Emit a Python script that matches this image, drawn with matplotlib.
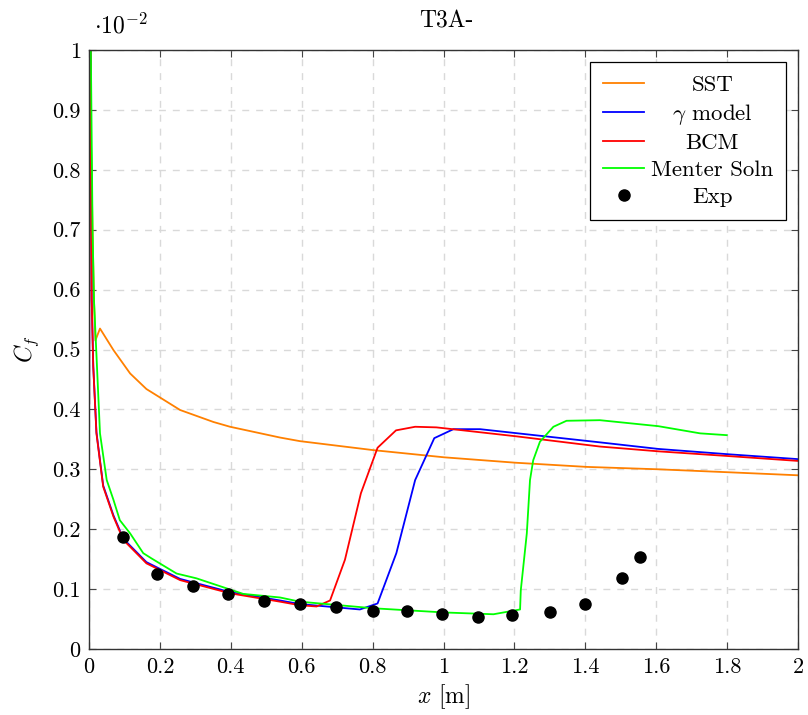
import numpy as np
import matplotlib.pyplot as plt

plt.rcParams['font.family'] = 'serif'
plt.rcParams['font.serif'] = ['cmr10', 'DejaVu Serif']
plt.rcParams['mathtext.fontset'] = 'cm'
plt.rcParams['axes.formatter.use_mathtext'] = True

# skin friction values in units of 1e-2
sst_x = [0.0005, 0.004, 0.010, 0.014, 0.018, 0.031, 0.069, 0.116, 0.162, 0.257, 0.351, 0.398,
         0.539, 0.595, 0.802, 1.002, 1.203, 1.404, 1.606, 1.806, 2.0]
sst_y = [1.20, 0.90, 0.70, 0.583, 0.515, 0.535, 0.499, 0.460, 0.434, 0.399, 0.379, 0.371,
         0.353, 0.347, 0.332, 0.320, 0.311, 0.304, 0.300, 0.295, 0.290]

gam_x = [0.0005, 0.002, 0.0056, 0.0076, 0.012, 0.021, 0.04, 0.069, 0.097, 0.162, 0.257, 0.398,
         0.539, 0.595, 0.764, 0.814, 0.867, 0.920, 0.974, 1.028, 1.103, 1.441, 1.606, 1.806, 2.0]
gam_y = [0.41, 1.50, 0.89, 0.585, 0.473, 0.362, 0.273, 0.223, 0.184, 0.145, 0.117, 0.095,
         0.081, 0.075, 0.066, 0.076, 0.160, 0.282, 0.352, 0.367, 0.367, 0.345, 0.334, 0.325, 0.317]

bcm_x = [0.0005, 0.002, 0.0056, 0.0076, 0.012, 0.021, 0.04, 0.069, 0.097, 0.162, 0.257, 0.398,
         0.539, 0.595, 0.642, 0.680, 0.722, 0.767, 0.814, 0.866, 0.920, 0.980, 1.206, 1.441,
         1.606, 1.806, 2.0]
bcm_y = [0.41, 1.50, 0.89, 0.583, 0.471, 0.360, 0.271, 0.221, 0.182, 0.143, 0.115, 0.093,
         0.079, 0.073, 0.071, 0.081, 0.149, 0.260, 0.336, 0.365, 0.371, 0.370, 0.355, 0.338,
         0.330, 0.322, 0.314]

men_x = [0.002, 0.010, 0.014, 0.031, 0.050, 0.069, 0.087, 0.116, 0.153, 0.177, 0.247, 0.303,
         0.435, 0.539, 0.595, 0.802, 1.002, 1.141, 1.216, 1.218, 1.225, 1.235, 1.244, 1.253,
         1.272, 1.310, 1.347, 1.441, 1.606, 1.724, 1.799]
men_y = [1.20, 0.70, 0.583, 0.360, 0.282, 0.249, 0.215, 0.193, 0.160, 0.151, 0.126, 0.118,
         0.092, 0.086, 0.079, 0.068, 0.061, 0.058, 0.066, 0.098, 0.137, 0.193, 0.282, 0.315,
         0.346, 0.371, 0.381, 0.382, 0.372, 0.360, 0.357]

exp_x = [0.095, 0.193, 0.294, 0.391, 0.493, 0.595, 0.696, 0.801, 0.898, 0.997, 1.097, 1.194,
         1.301, 1.398, 1.503, 1.554]
exp_y = [0.187, 0.125, 0.106, 0.092, 0.080, 0.075, 0.070, 0.063, 0.064, 0.058, 0.053, 0.056,
         0.061, 0.075, 0.119, 0.154]

W, H = 808, 715
fig = plt.figure(figsize=(W / 100, H / 100), dpi=100)
ax = fig.add_axes([89 / W, 66 / H, 709 / W, 599 / H])

lw = 1.3
ax.plot(sst_x, sst_y, color='#ff8000', lw=lw, label='SST')
ax.plot(gam_x, gam_y, color='#0000ff', lw=lw, label=r'$\gamma$ model')
ax.plot(bcm_x, bcm_y, color='#ff0000', lw=lw, label='BCM')
ax.plot(men_x, men_y, color='#00ff00', lw=lw, label='Menter Soln')
ax.plot(exp_x, exp_y, 'o', color='black', ms=8, label='Exp')

ax.set_xlim(0, 2)
ax.set_ylim(0, 1)
ax.set_xticks(np.arange(0, 2.01, 0.2))
ax.set_yticks(np.arange(0, 1.01, 0.1))
ax.set_xticklabels(['0', '0.2', '0.4', '0.6', '0.8', '1', '1.2', '1.4', '1.6', '1.8', '2'])
ax.set_yticklabels(['0', '0.1', '0.2', '0.3', '0.4', '0.5', '0.6', '0.7', '0.8', '0.9', '1'])
ax.tick_params(direction='in', top=True, right=True, length=5, width=0.8,
               color='#444444', labelsize=16, pad=6)
ax.grid(True, color='#d9d9d9', linestyle=(0, (5, 5)), linewidth=1)
for s in ax.spines.values():
    s.set_color('#333333')
    s.set_linewidth(1)

ax.set_xlabel(r'$x$ [m]', fontsize=17, labelpad=4)
ax.set_ylabel(r'$C_f$', fontsize=17, labelpad=8)
# title and the y multiplier, placed by pixel
fig.text(446 / W, (H - 28) / H, 'T3A-', fontsize=17, ha='center', va='baseline')
fig.text(94 / W, (H - 33) / H, r'$\cdot 10^{-2}$', fontsize=17, ha='left', va='baseline')

leg = ax.legend(loc='upper right', fontsize=16.5, frameon=True, fancybox=False,
                edgecolor='black', framealpha=1, handlelength=1.8, borderpad=0.55,
                labelspacing=0.3, handletextpad=0.3, borderaxespad=0,
                bbox_to_anchor=(697 / 709, 587 / 599))
leg.get_frame().set_linewidth(0.9)

# centre the legend texts in their column (shift narrower labels right)
fig.canvas.draw()
r = fig.canvas.get_renderer()
texts = leg.get_texts()
widths = [t.get_window_extent(r).width for t in texts]
wmax = max(widths)
for t, w in zip(texts, widths):
    t.set_position(((wmax - w) / 2, 0))

fig.savefig('out.png', dpi=100)
